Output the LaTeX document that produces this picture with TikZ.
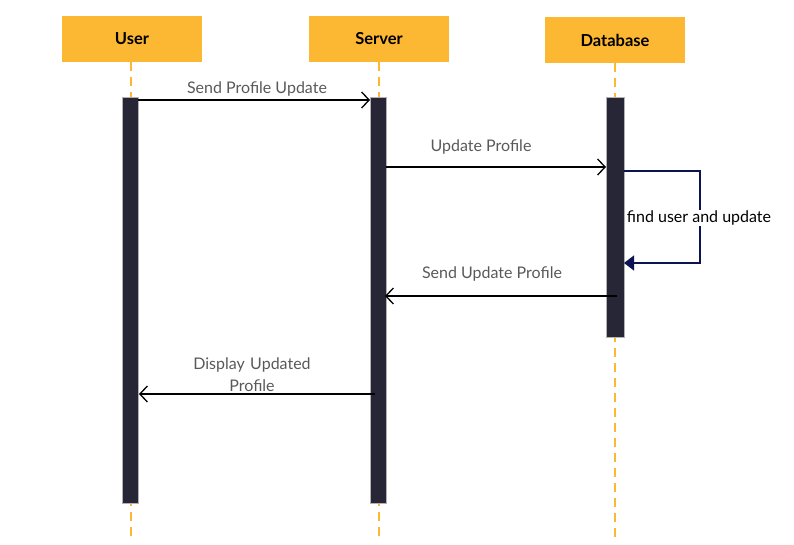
\documentclass[tikz,border=0pt]{standalone}
\usepackage{fontspec}
\setmainfont{Lato}
\usetikzlibrary{arrows.meta}
\definecolor{hdr}{HTML}{FDB833}
\definecolor{bar}{HTML}{262637}
\definecolor{lbl}{HTML}{595959}
\definecolor{navy}{HTML}{0B1352}
\begin{document}
\begin{tikzpicture}[x=1pt,y=-1pt,
  head/.style={fill=hdr,draw=none,minimum width=140pt,minimum height=46pt,inner sep=0pt,font=\fontsize{16.5}{19}\selectfont\bfseries},
  life/.style={draw=hdr,line width=1.5pt,dash pattern=on 9pt off 6pt},
  actbar/.style={fill=bar,draw=gray!60,line width=0.4pt},
  msg/.style={draw=black,line width=1.3pt,-{Straight Barb[length=7.5pt,width=16pt,line width=1.3pt]}},
  mlabel/.style={text=lbl,font=\fontsize{16}{22}\selectfont,inner sep=1pt,align=center}
]
\useasboundingbox (0,0) rectangle (794,545);
% headers
\node[head] (user) at (132,39) {User};
\node[head] (server) at (379,39) {Server};
\node[head] (db) at (615,40) {Database};
% lifelines
\coordinate (ue) at (131,540);
\coordinate (se) at (379,540);
\coordinate (de) at (615,540);
\draw[life] (user.south -| ue) -- (ue);
\draw[life] (server.south -| se) -- (se);
\draw[life] (db.south -| de) -- (de);
% activation bars
\node[actbar,minimum width=16pt,minimum height=406pt,inner sep=0pt] (ub) at (130,300) {};
\node[actbar,minimum width=16pt,minimum height=406pt,inner sep=0pt] (sb) at (378,300) {};
\node[actbar,minimum width=18pt,minimum height=240pt,inner sep=0pt] (db2) at (615,217) {};
% messages
\coordinate (m1s) at (138,100);
\coordinate (m1e) at (370,100);
\draw[msg] (m1s) -- (m1e);
\node[mlabel] (l1) at (257,89) {Send Profile Update};
\coordinate (m2s) at (386,167);
\coordinate (m2e) at (606,167);
\draw[msg] (m2s) -- (m2e);
\node[mlabel] (l2) at (481,147) {Update Profile};
% self message
\coordinate (s1) at (624,171);
\coordinate (s2) at (700,171);
\coordinate (s3) at (700,263);
\coordinate (s4) at (624,263);
\draw[navy,line width=1.3pt,-{Triangle[length=10pt,width=15pt]}] (s1) -- (s2) -- (s3) -- (s4);
\node[fill=white,font=\fontsize{16}{19}\selectfont,inner sep=1pt,text=black] (l3) at (699,218) {find user and update};
% return messages
\coordinate (m4s) at (617,296);
\coordinate (m4e) at (385,296);
\draw[msg] (m4s) -- (m4e);
\node[mlabel] (l4) at (492,274) {Send Update Profile};
\coordinate (m5s) at (375,394);
\coordinate (m5e) at (139,394);
\draw[msg] (m5s) -- (m5e);
\node[mlabel,text width=140pt] (l5) at (252,375) {Display Updated\\Profile};
\end{tikzpicture}
\end{document}
